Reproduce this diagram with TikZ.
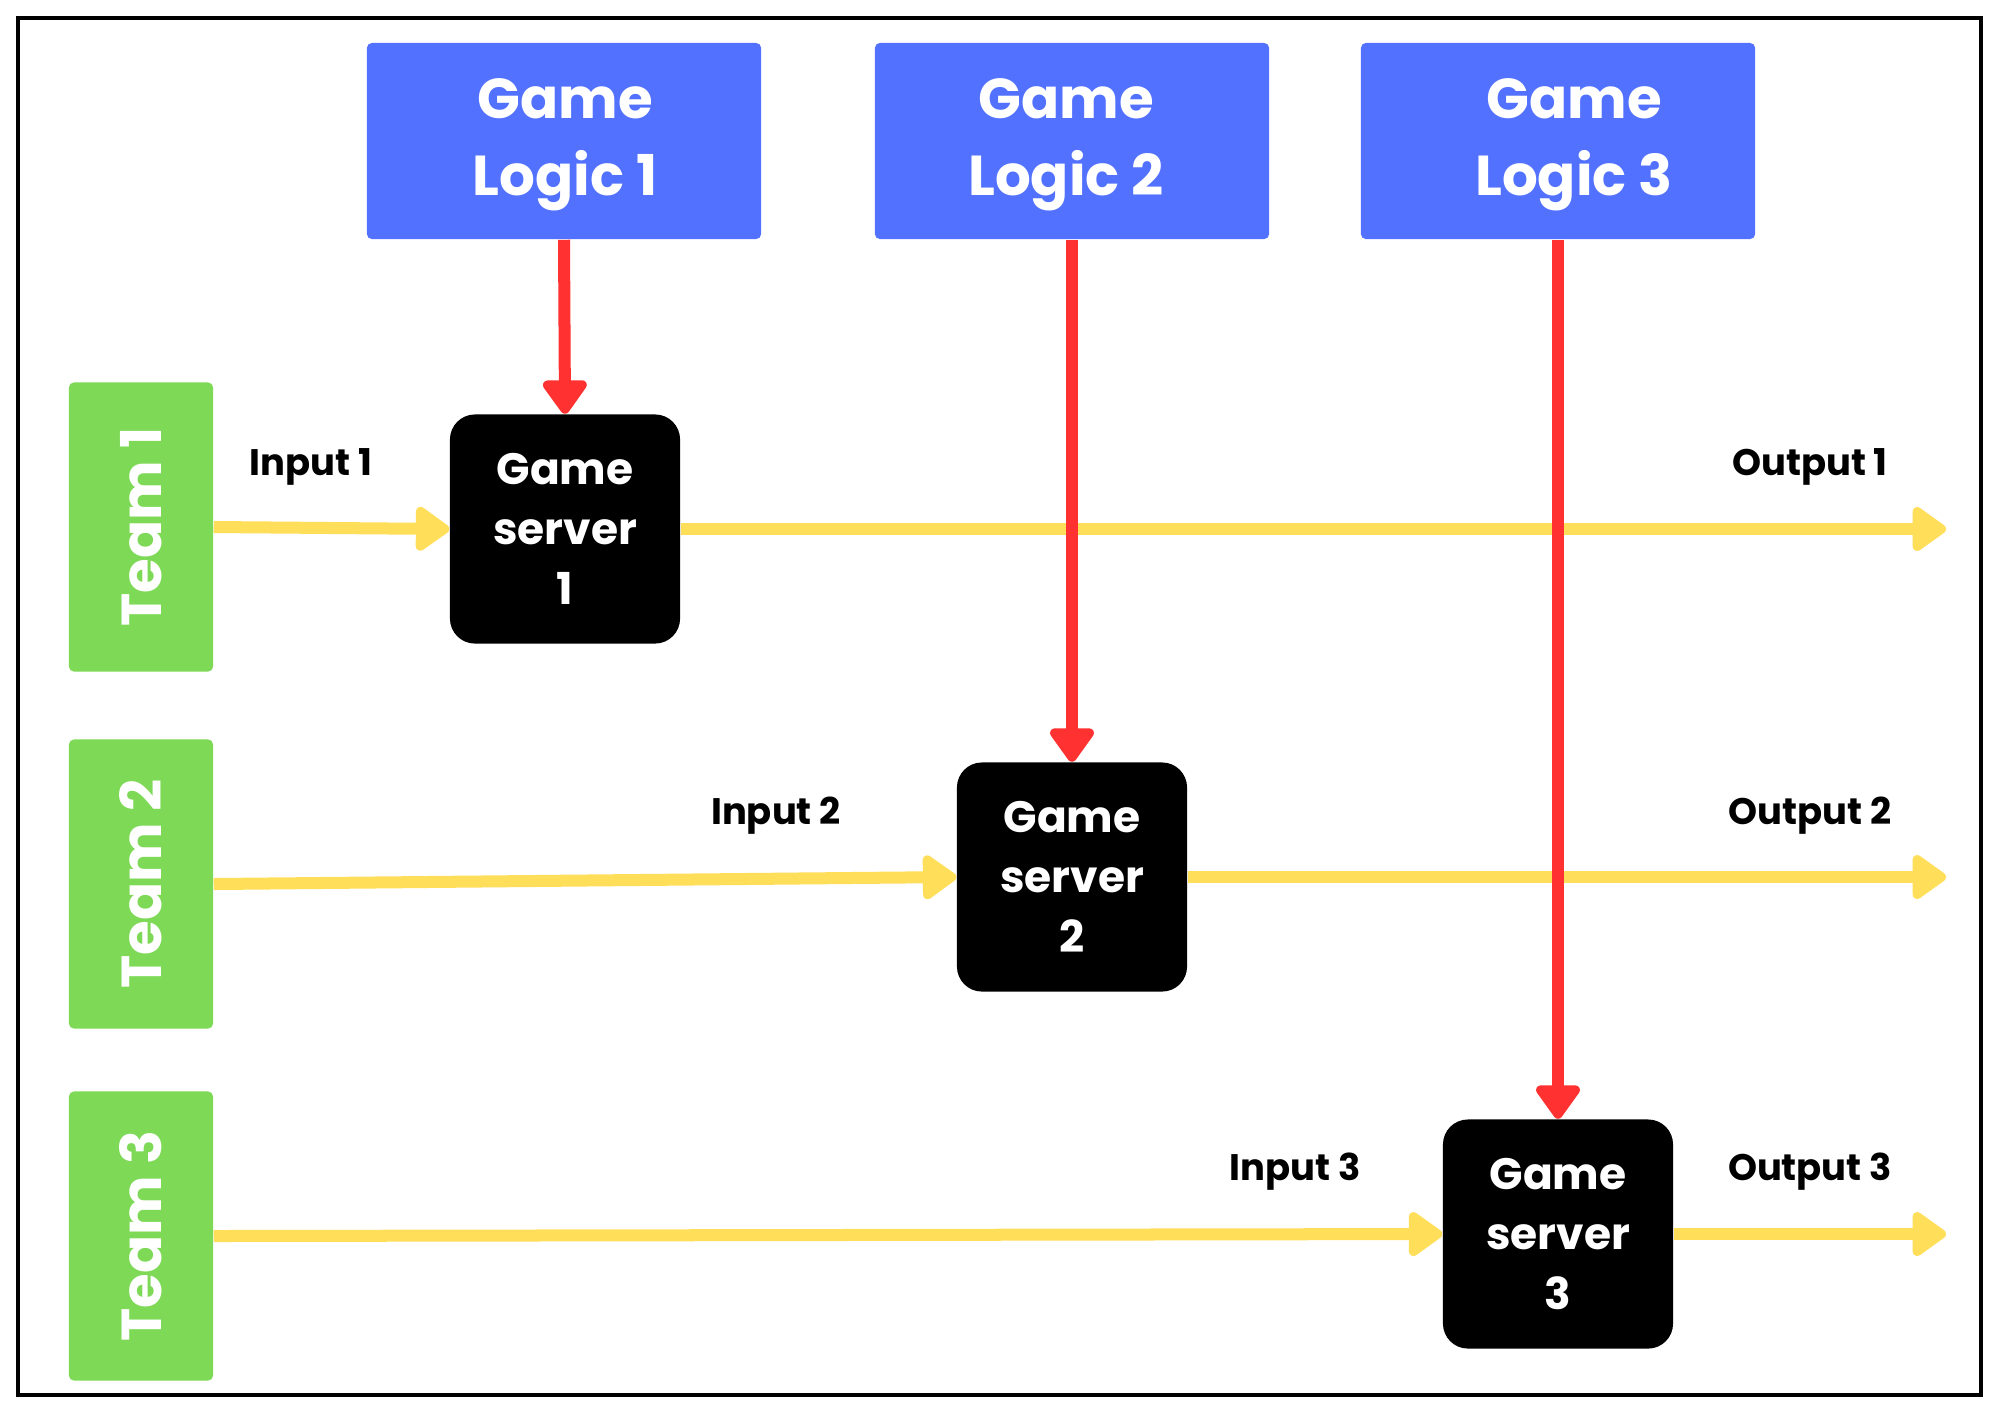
\documentclass[tikz,border=0pt]{standalone}
\usepackage{fontspec}
\setmainfont{Poppins}
\usetikzlibrary{arrows.meta}
\definecolor{cblue}{HTML}{5271FF}
\definecolor{cgreen}{HTML}{7ED957}
\definecolor{cyellow}{HTML}{FFDE59}
\definecolor{cred}{HTML}{FF3131}
\begin{document}
\begin{tikzpicture}[x=0.01cm,y=-0.01cm,
 logic/.style={fill=cblue, rounded corners=0.05cm, minimum width=3.94cm, minimum height=1.96cm, inner sep=0pt},
 logictext/.style={text=white, align=center, font=\bfseries\fontsize{16}{21.9}\selectfont, inner sep=0pt},
 team/.style={fill=cgreen, rounded corners=0.05cm, minimum width=1.44cm, minimum height=2.89cm, inner sep=0pt},
 teamtext/.style={text=white, rotate=90, font=\bfseries\fontsize{16}{18}\selectfont, inner sep=0pt},
 server/.style={fill=black, rounded corners=0.25cm, minimum width=2.3cm, minimum height=2.29cm, text=white, align=center, font=\bfseries\fontsize{12.5}{17}\selectfont, inner sep=0pt},
 lbl/.style={font=\bfseries\fontsize{10.5}{12}\selectfont, inner sep=0pt},
 feed/.style={draw=cyellow, line width=0.12cm, -{Triangle[width=0.5cm,length=0.37cm,round]}},
 ctrl/.style={draw=cred, line width=0.12cm, -{Triangle[width=0.5cm,length=0.37cm,round]}},
]
\fill[white] (0,0) rectangle (2000,1414);
\path[use as bounding box] (0,0) rectangle (2000,1414);
\draw[line width=1.2pt] (18,18) rectangle (1981,1395);

% game logic boxes
\node[logic] (l1) at (564,141) {};
\node[logic] (l2) at (1072,141) {};
\node[logic] (l3) at (1558,141) {};
\node[logictext] (lt1) at (565,145) {Game\\Logic 1};
\node[logictext] (lt2) at (1066,145) {Game\\Logic 2};
\node[logictext] (lt3) at (1574,145) {Game\\Logic 3};

% teams
\node[team] (t1) at (141,527) {};
\node[team] (t2) at (141,884) {};
\node[team] (t3) at (141,1236) {};
\node[teamtext] (tt1) at (t1) {Team 1};
\node[teamtext] (tt2) at (t2) {Team 2};
\node[teamtext] (tt3) at (t3) {Team 3};

% servers
\node[server] (s1) at (565,529) {Game\\server\\1};
\node[server] (s2) at (1072,877) {Game\\server\\2};
\node[server] (s3) at (1558,1234) {Game\\server\\3};

% outputs
\coordinate (o1) at (1946,529);
\coordinate (o2) at (1946,877);
\coordinate (o3) at (1946,1234);

% yellow flows
\draw[feed] (t1.east) -- (s1.west);
\draw[feed] (t2.east) -- (s2.west);
\draw[feed] (t3.east) -- (s3.west);
\draw[feed] (s1.east) -- (o1);
\draw[feed] (s2.east) -- (o2);
\draw[feed] (s3.east) -- (o3);

% red control arrows
\draw[ctrl] (l1.south) -- (s1.north);
\draw[ctrl] (l2.south) -- (s2.north);
\draw[ctrl] (l3.south) -- (s3.north);

% labels
\node[lbl] (i1) at (311,467) {Input 1};
\node[lbl] (i2) at (776,816) {Input 2};
\node[lbl] (i3) at (1295,1172) {Input 3};
\node[lbl] (u1) at (1810,467) {Output 1};
\node[lbl] (u2) at (1810,816) {Output 2};
\node[lbl] (u3) at (1810,1172) {Output 3};
\end{tikzpicture}
\end{document}
